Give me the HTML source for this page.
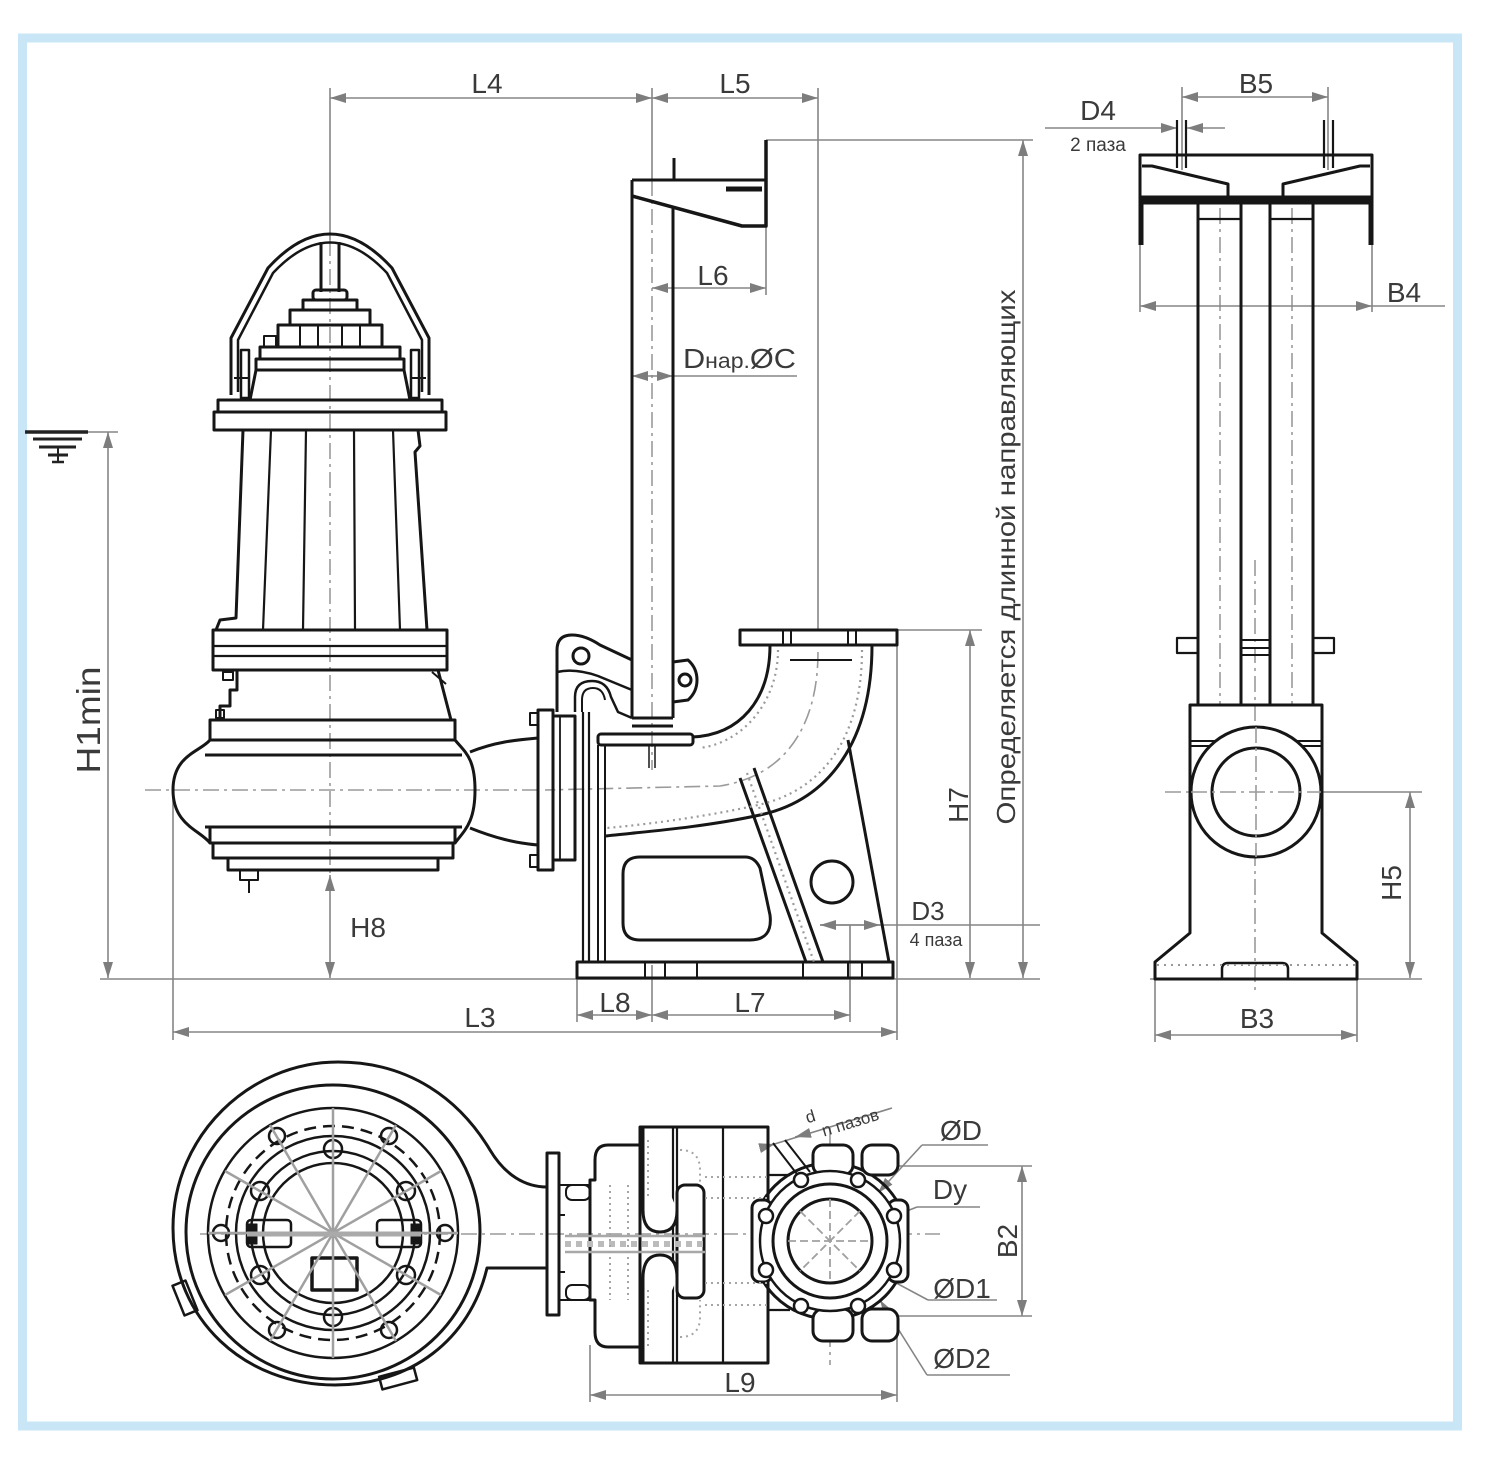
<!DOCTYPE html>
<html><head><meta charset="utf-8"><style>
html,body{margin:0;padding:0;background:#fff;}
svg{display:block;}
text{font-family:"Liberation Sans",sans-serif;fill:#3a3a3a;}
</style></head><body>
<svg width="1500" height="1469" viewBox="0 0 1500 1469" xmlns="http://www.w3.org/2000/svg">
<defs>
<marker id="a" viewBox="0 0 16 10" refX="16" refY="5" markerWidth="16" markerHeight="10" markerUnits="userSpaceOnUse" orient="auto-start-reverse"><path d="M0,0L16,5L0,10z" fill="#7d7d7d"/></marker>
</defs>
<rect x="0" y="0" width="1500" height="1469" fill="#fff"/>
<rect x="22.5" y="38" width="1435" height="1388" fill="none" stroke="#c8e6f5" stroke-width="9"/>

<!-- ===== CENTER LINES ===== -->
<g fill="none" stroke="#9a9a9a" stroke-width="1.6" stroke-dasharray="16 5 3 5">
<path d="M330,240 V875"/>
<path d="M145,790 H540"/>
<path d="M652,180 V770"/>
<path d="M818,652 C818,720 790,775 720,786 L545,790"/>
<path d="M1220,208 V705"/>
<path d="M1292,208 V705"/>
<path d="M1255,560 V995"/>
<path d="M1165,792 H1300"/>
<path d="M200,1234 H940"/>
<path d="M830,1128 V1365"/>
</g>

<!-- ===== DIMENSION LINES (gray) ===== -->
<g fill="none" stroke="#858585" stroke-width="1.6">
<!-- extension lines -->
<path d="M330,88 V240"/>
<path d="M652,88 V180"/>
<path d="M818,88 V630"/>
<path d="M766,140 H1033"/>
<path d="M766,226 V295"/>
<path d="M673,376 H797"/>
<path d="M25,432 H118"/>
<path d="M100,979 H1040"/>
<path d="M173,790 V1040"/>
<path d="M897,645 V1040"/>
<path d="M577,978 V1022"/>
<path d="M652,965 V1022"/>
<path d="M850,925 V1022"/>
<path d="M897,630 H982"/>
<path d="M820,925 H1040"/>
<path d="M1182,87 V170"/>
<path d="M1328,87 V170"/>
<path d="M1140,245 V312"/>
<path d="M1372,245 V312"/>
<path d="M1372,306 H1445"/>
<path d="M1300,792 H1422"/>
<path d="M1150,979 H1422"/>
<path d="M1155,980 V1042"/>
<path d="M1357,980 V1042"/>
<path d="M590,1345 V1402"/>
<path d="M897,1320 V1402"/>
<path d="M878,1166 H1032"/>
<path d="M885,1316 H1032"/>
<!-- dimensions with arrows -->
<path d="M330,98 H652" marker-start="url(#a)" marker-end="url(#a)"/>
<path d="M652,98 H818" marker-start="url(#a)" marker-end="url(#a)"/>
<path d="M1023,140 V978" marker-start="url(#a)" marker-end="url(#a)"/>
<path d="M652,288 H766" marker-start="url(#a)" marker-end="url(#a)"/>
<path d="M632,376 H673" marker-start="url(#a)" marker-end="url(#a)"/>
<path d="M108,432 V978" marker-start="url(#a)" marker-end="url(#a)"/>
<path d="M330,875 V978" marker-start="url(#a)" marker-end="url(#a)"/>
<path d="M173,1032 H897" marker-start="url(#a)" marker-end="url(#a)"/>
<path d="M577,1015 H652" marker-start="url(#a)" marker-end="url(#a)"/>
<path d="M652,1015 H850" marker-start="url(#a)" marker-end="url(#a)"/>
<path d="M970,630 V978" marker-start="url(#a)" marker-end="url(#a)"/>
<path d="M820,925 H880" marker-start="url(#a)" marker-end="url(#a)"/>
<path d="M1182,97 H1328" marker-start="url(#a)" marker-end="url(#a)"/>
<path d="M1045,128 H1177" marker-end="url(#a)"/>
<path d="M1225,128 H1187" marker-end="url(#a)"/>
<path d="M1140,306 H1372" marker-start="url(#a)" marker-end="url(#a)"/>
<path d="M1410,792 V978" marker-start="url(#a)" marker-end="url(#a)"/>
<path d="M1155,1035 H1357" marker-start="url(#a)" marker-end="url(#a)"/>
<path d="M590,1395 H897" marker-start="url(#a)" marker-end="url(#a)"/>
<path d="M1022,1166 V1316" marker-start="url(#a)" marker-end="url(#a)"/>
<!-- leaders bottom -->
<path d="M922,1145 H988"/>
<path d="M922,1145 L878,1193" marker-end="url(#a)"/>
<path d="M917,1207 H980"/>
<path d="M917,1207 L871,1225" marker-end="url(#a)"/>
<path d="M928,1300 H997"/>
<path d="M928,1300 L872,1270" marker-end="url(#a)"/>
<path d="M927,1375 H1010"/>
<path d="M927,1375 L880,1300" marker-end="url(#a)"/>
<path d="M768,1146 L892,1108"/>
<path d="M760,1148 L775,1144" marker-end="url(#a)"/>
<path d="M810,1133 L795,1137" marker-end="url(#a)"/>
</g>

<!-- water level -->
<g stroke="#222" fill="none">
<path d="M25,432 H88" stroke-width="3.5"/>
<path d="M33,439 H82" stroke-width="3"/>
<path d="M39,447 H76" stroke-width="3"/>
<path d="M48,455 H68" stroke-width="3"/>
<path d="M58,447 V463" stroke-width="2"/>
<path d="M52,462 H64" stroke-width="2.5"/>
</g>

<!-- ===== PUMP SIDE VIEW ===== -->
<g fill="none" stroke="#161616" stroke-width="3" stroke-linejoin="round">
<path d="M231,395 V338 L268,268 Q330,200 392,268 L429,338 V395"/>
<path d="M238,392 V340 L273,273 Q330,212 387,273 L422,340 V392" stroke-width="2.5"/>
<rect x="241" y="350" width="8" height="48" stroke-width="2.5"/>
<rect x="411" y="350" width="8" height="48" stroke-width="2.5"/>
<path d="M234,378 H250 M410,378 H426" stroke-width="2"/>
<path d="M321,242 V292 M339,242 V292"/>
<rect x="313" y="290" width="34" height="10" rx="3"/>
<rect x="303" y="300" width="54" height="10"/>
<rect x="290" y="310" width="80" height="15"/>
<rect x="278" y="325" width="104" height="22"/>
<path d="M300,325 V347 M318,325 V347 M342,325 V347 M360,325 V347" stroke-width="2"/>
<rect x="260" y="347" width="140" height="12"/>
<rect x="256" y="359" width="148" height="11"/>
<path d="M256,370 L250,400 M404,370 L410,400"/>
<rect x="264" y="336" width="12" height="11" stroke-width="2"/>
<rect x="218" y="400" width="224" height="12"/>
<rect x="214" y="412" width="232" height="18"/>
<path d="M243,430 L236,618 L220,620 L216,630"/>
<path d="M418,430 L420,446 L415,452 L427,630"/>
<path d="M271,430 L263,630 M306,430 L303,630 M354,430 L355,630 M393,430 L400,630" stroke-width="2.2"/>
<rect x="213" y="630" width="234" height="40"/>
<path d="M213,646 H447 M213,656 H447" stroke-width="2.2"/>
<path d="M237,670 V690 L230,690 V706 L220,706 V720"/>
<rect x="223" y="672" width="10" height="8" stroke-width="2"/>
<rect x="216" y="710" width="8" height="8" stroke-width="2"/>
<path d="M438,670 L451,720"/>
<path d="M432,672 L446,684" stroke-width="2"/>
<rect x="210" y="720" width="245" height="20"/>
<path d="M210,740 C200,752 173,755 173,790 C173,825 200,830 210,843"/>
<path d="M455,740 C465,752 475,758 475,790 C475,822 465,830 455,843"/>
<path d="M205,755 H462 M205,827 H462"/>
<rect x="210" y="827" width="245" height="16"/>
<rect x="213" y="843" width="240" height="15"/>
<rect x="228" y="858" width="210" height="12"/>
<rect x="240" y="870" width="18" height="10" stroke-width="2"/>
<path d="M249,880 V893" stroke-width="2"/>
<path d="M470,752 C495,742 515,740 538,738 M470,828 C495,838 515,843 538,845"/>
<rect x="538" y="710" width="15" height="160"/>
<rect x="530" y="713" width="8" height="12" stroke-width="2"/>
<rect x="530" y="855" width="8" height="12" stroke-width="2"/>
<rect x="553" y="716" width="22" height="144"/>
<path d="M560,716 V860" stroke-width="1.8"/>
<path d="M583,712 V962 M589,712 V962" stroke-width="2.2"/>
<path d="M598,745 V962 M605,745 V962" stroke-width="2"/>
<!-- bracket -->
<path d="M557,712 V650 Q557,635 572,635 Q585,635 600,645 L632,660"/>
<path d="M557,672 Q575,668 598,676 L632,690" stroke-width="2.5"/>
<path d="M575,712 V697 Q575,681 592,681 Q607,681 611,697 L618,712 L632,718" stroke-width="2.5"/>
<path d="M582,712 V700 Q582,688 593,688 Q603,688 605,700" stroke-width="2"/>
<circle cx="581" cy="656" r="8"/>
<!-- guide pipe -->
<path d="M632,180 V718 M673,208 V718"/>
<path d="M632,718 H673 M632,726 H673"/>
<rect x="598" y="734" width="95" height="11" rx="3"/>
<path d="M649,745 V768 M655,745 V768" stroke-width="1.5"/>
<path d="M673,662 L688,660 Q697,668 697,680 Q697,692 688,700 L673,702"/>
<circle cx="685" cy="680" r="6"/>
<path d="M632,180 H766"/>
<path d="M766,140 V226 H742 L632,196" stroke-width="3.5"/>
<path d="M674,158 V180"/>
<path d="M726,189 H762" stroke-width="5"/>
<!-- outlet bend -->
<rect x="740" y="630" width="157" height="15"/>
<path d="M783,630 V645 M791,630 V645 M848,630 V645 M856,630 V645" stroke-width="2"/>
<path d="M770,645 C770,700 740,735 692,737"/>
<path d="M872,645 C872,740 830,800 760,815 C700,828 640,832 605,836"/>
<path d="M790,660 H852" stroke-width="2"/>
<path d="M740,778 L806,962 M754,768 L823,962"/>
<path d="M848,740 L889,962"/>
<rect x="577" y="962" width="316" height="16"/>
<path d="M645,962 V978 M665,962 V978 M697,962 V978 M803,962 V978 M848,962 V978 M862,962 V978" stroke-width="2"/>
<path d="M640,857 H745 Q755,857 760,868 L770,915 Q773,940 750,940 H640 Q623,940 623,923 V874 Q623,857 640,857 Z"/>
<circle cx="832" cy="882" r="21"/>
</g>
<g fill="none" stroke="#9a9a9a" stroke-width="2.2" stroke-dasharray="2 4">
<path d="M778,650 C778,700 745,742 700,748"/>
<path d="M862,650 C862,735 825,790 758,805 C700,818 640,825 607,828"/>
<path d="M747,773 L814,962"/>
</g>

<!-- ===== RIGHT SIDE VIEW ===== -->
<g fill="none" stroke="#161616" stroke-width="3" stroke-linejoin="round">
<rect x="1140" y="155" width="232" height="42"/>
<path d="M1142,166 H1152 L1228,184 V197 M1370,166 H1360 L1283,184 V197"/>
<rect x="1140" y="197" width="232" height="6" fill="#161616"/>
<path d="M1141,197 V245 M1371,197 V245" stroke-width="5"/>
<path d="M1177,120 V168 M1186,120 V168 M1324,120 V168 M1333,120 V168" stroke-width="2.2"/>
<rect x="1198" y="203" width="43" height="502"/>
<rect x="1270" y="203" width="43" height="502"/>
<path d="M1198,219 H1241 M1270,219 H1313" stroke-width="2.2"/>
<rect x="1177" y="638" width="21" height="15" stroke-width="2.2"/>
<rect x="1313" y="638" width="21" height="15" stroke-width="2.2"/>
<path d="M1241,640 H1270 M1241,648 H1270 M1241,655 H1270" stroke-width="2"/>
<path d="M1190,705 H1322 V933 L1357,962 V979 H1155 V962 L1190,933 Z"/>
<path d="M1190,741 H1322 M1190,746 H1322" stroke-width="2"/>
<circle cx="1256" cy="792" r="65" fill="#fff"/>
<circle cx="1256" cy="792" r="44"/>
<path d="M1222,979 V969 Q1222,963 1228,963 H1282 Q1288,963 1288,969 V979" stroke-width="2.5"/>
</g>
<path d="M1157,965 H1355" stroke="#999" stroke-width="2" stroke-dasharray="2 5" fill="none"/>
<path d="M1256,727 V857 M1191,792 H1321" stroke="#9a9a9a" stroke-width="1.6" stroke-dasharray="16 5 3 5" fill="none"/>

<!-- ===== BOTTOM (PLAN) VIEW ===== -->
<g fill="none" stroke="#161616" stroke-width="3" stroke-linejoin="round">
<path d="M547,1268 H487 C470,1340 410,1385 335,1385 C245,1385 173,1320 173,1228 C173,1135 250,1062 338,1062 C410,1062 460,1100 490,1150 C505,1175 525,1187 547,1187"/>
<circle cx="333" cy="1232" r="147"/>
<circle cx="333" cy="1233" r="125" stroke-width="2.5"/>
<circle cx="333" cy="1233" r="107" stroke-width="2.5" stroke-dasharray="12 7"/>
<circle cx="333" cy="1233" r="97" stroke-width="2.5"/>
<circle cx="333" cy="1233" r="82" stroke-width="2.5"/>
<circle cx="333" cy="1233" r="70" stroke-width="2.5"/>
<g stroke-width="2.5">
<circle cx="445" cy="1233" r="8"/><circle cx="389" cy="1136" r="8"/><circle cx="277" cy="1136" r="8"/>
<circle cx="221" cy="1233" r="8"/><circle cx="277" cy="1330" r="8"/><circle cx="389" cy="1330" r="8"/>
<circle cx="406" cy="1191" r="9"/><circle cx="333" cy="1149" r="9"/><circle cx="260" cy="1191" r="9"/>
<circle cx="260" cy="1275" r="9"/><circle cx="333" cy="1317" r="9"/><circle cx="406" cy="1275" r="9"/>
</g>
<rect x="247" y="1220" width="44" height="27" rx="4" stroke-width="2.5"/>
<rect x="377" y="1220" width="44" height="27" rx="4" stroke-width="2.5"/>
<rect x="248" y="1224" width="9" height="20" fill="#161616" stroke-width="1"/>
<rect x="411" y="1224" width="9" height="20" fill="#161616" stroke-width="1"/>
<rect x="312" y="1258" width="45" height="32" stroke-width="3.5"/>
<rect x="178" y="1282" width="14" height="32" transform="rotate(-22 185 1298)" stroke-width="2.5"/>
<rect x="380" y="1372" width="36" height="13" transform="rotate(-15 398 1378)" stroke-width="2.5"/>
<rect x="547" y="1153" width="12" height="162"/>
<path d="M559,1215 H565 M559,1272 H565" stroke-width="2"/>
<path d="M559,1185 H590 M559,1300 H590" stroke-width="2"/>
<rect x="566" y="1185" width="24" height="15" rx="6" stroke-width="2"/>
<rect x="566" y="1285" width="24" height="15" rx="6" stroke-width="2"/>
<path d="M640,1145 H608 Q595,1145 595,1160 V1180 H590 V1300 H595 V1332 Q595,1347 608,1347 H640"/>
<rect x="640" y="1127" width="128" height="236"/>
<path d="M673,1127 V1363 M677,1127 V1363 M723,1127 V1363" stroke-width="2.2"/>
<path d="M643,1127 V1210 Q643,1232 660,1232 Q677,1232 677,1210" fill="#fff"/>
<path d="M643,1363 V1278 Q643,1255 660,1255 Q677,1255 677,1278" fill="#fff"/>
<rect x="677" y="1185" width="27" height="113" rx="8"/>
<path d="M768,1175 H790 M768,1310 H790" stroke-width="2.2"/>
<path d="M773,1143 L800,1178 M785,1140 L810,1172" stroke-width="2"/>
<!-- outlet flange plan -->
<circle cx="830" cy="1241" r="78"/>
<rect x="813" y="1145" width="40" height="30" rx="10" fill="#fff"/>
<rect x="862" y="1145" width="36" height="30" rx="10" fill="#fff"/>
<rect x="813" y="1309" width="40" height="32" rx="10" fill="#fff"/>
<rect x="862" y="1309" width="36" height="32" rx="10" fill="#fff"/>
<rect x="752" y="1200" width="20" height="82" rx="8" fill="#fff"/>
<rect x="888" y="1200" width="20" height="82" rx="8" fill="#fff"/>
<circle cx="830" cy="1241" r="70" fill="#fff" stroke-width="2.5"/>
<circle cx="830" cy="1241" r="57"/>
<circle cx="830" cy="1241" r="42"/>
<g stroke-width="2.5" fill="#fff">
<circle cx="801" cy="1180" r="7"/><circle cx="858" cy="1180" r="7"/><circle cx="894" cy="1216" r="7"/><circle cx="894" cy="1270" r="7"/>
<circle cx="858" cy="1306" r="7"/><circle cx="801" cy="1306" r="7"/><circle cx="766" cy="1270" r="7"/><circle cx="766" cy="1216" r="7"/>
</g>
</g>
<g fill="none" stroke="#a0a0a0" stroke-width="2.5">
<path d="M333,1108 V1358 M208,1233 H458 M270,1125 L396,1341 M396,1125 L270,1341 M225,1171 L441,1295 M225,1295 L441,1171"/>
<path d="M247,1234 H421" stroke-width="5" stroke="#aaa"/>
<path d="M565,1236 H705 M565,1252 H705" stroke="#a8a8a8"/>
<path d="M565,1244 H705" stroke="#bbb" stroke-dasharray="6 5" stroke-width="6"/>
<path d="M830,1199 V1283 M788,1241 H872 M800,1211 L860,1271 M860,1211 L800,1271" stroke-width="1.8" stroke-dasharray="8 4"/>
</g>
<g fill="none" stroke="#a5a5a5" stroke-width="2" stroke-dasharray="2 4">
<path d="M705,1177 H768 M705,1198 H768 M705,1283 H768 M705,1305 H768"/>
<path d="M610,1185 V1300 M628,1185 V1300"/>
<path d="M680,1150 Q700,1150 700,1170 V1185 M680,1337 Q700,1337 700,1317 V1300"/>
<path d="M648,1140 V1200 M648,1290 V1350"/>
</g>

<!-- ===== TEXT ===== -->
<g font-size="28" text-anchor="middle">
<text x="487" y="93">L4</text>
<text x="735" y="93">L5</text>
<text x="713" y="285">L6</text>
<text x="683" y="368" text-anchor="start" textLength="113" lengthAdjust="spacingAndGlyphs">D<tspan font-size="21">нар.</tspan>ØC</text>
<text transform="translate(1015,557) rotate(-90)" font-size="26" textLength="535" lengthAdjust="spacingAndGlyphs">Определяется длинной направляющих</text>
<text transform="translate(100,720) rotate(-90)" font-size="33" textLength="107" lengthAdjust="spacingAndGlyphs">H1min</text>
<text x="368" y="937">H8</text>
<text transform="translate(968,805) rotate(-90)">H7</text>
<text x="928" y="920" font-size="26">D3</text>
<text x="936" y="946" font-size="18">4 паза</text>
<text x="615" y="1012">L8</text>
<text x="750" y="1012">L7</text>
<text x="480" y="1027">L3</text>
<text x="1256" y="93">B5</text>
<text x="1098" y="120">D4</text>
<text x="1098" y="151" font-size="19">2 паза</text>
<text x="1404" y="302">B4</text>
<text transform="translate(1401,883) rotate(-90)">H5</text>
<text x="1257" y="1028">B3</text>
<text x="961" y="1140">ØD</text>
<text x="950" y="1199">Dy</text>
<text x="962" y="1298">ØD1</text>
<text x="962" y="1368">ØD2</text>
<text x="740" y="1392">L9</text>
<text transform="translate(1017,1241) rotate(-90)">B2</text>
<text transform="translate(812,1122) rotate(-17)" font-size="17">d</text>
<text transform="translate(852,1128) rotate(-17)" font-size="17">n пазов</text>
</g>
</svg>
</body></html>
